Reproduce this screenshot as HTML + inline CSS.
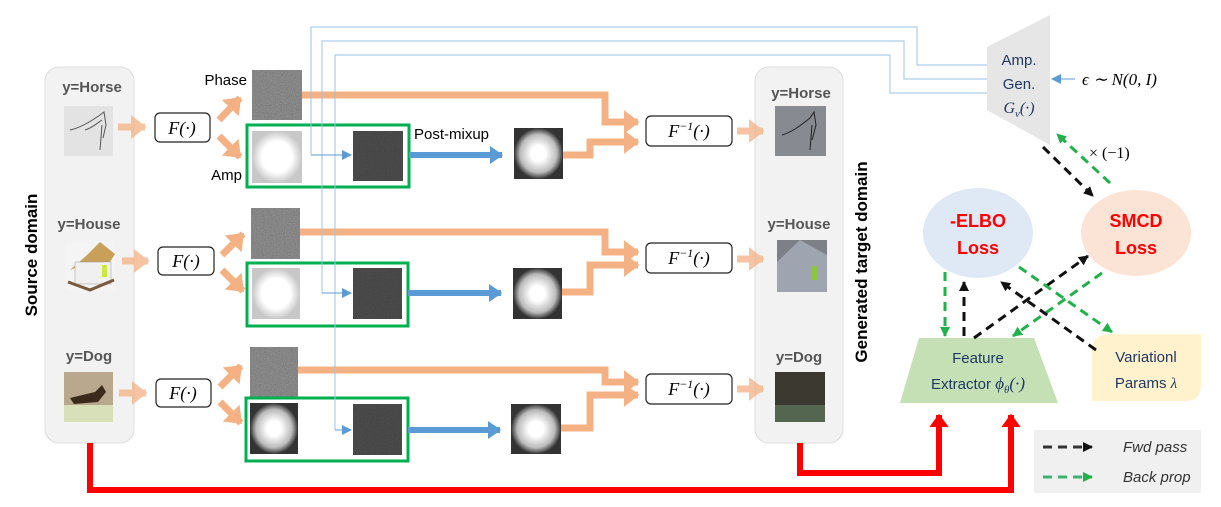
<!DOCTYPE html>
<html><head><meta charset="utf-8"><style>
html,body{margin:0;padding:0;background:#fff;}
svg{display:block;font-family:"Liberation Sans",sans-serif;}
.m{font-family:"Liberation Serif",serif;font-style:italic;}
</style></head><body>
<svg width="1221" height="507" viewBox="0 0 1221 507" xmlns="http://www.w3.org/2000/svg">
<defs>
<filter id="nz" x="0" y="0" width="100%" height="100%"><feTurbulence type="fractalNoise" baseFrequency="0.9" numOctaves="2" seed="3"/><feColorMatrix values="0.33 0.33 0.33 0 0  0.33 0.33 0.33 0 0  0.33 0.33 0.33 0 0  0 0 0 0 1"/></filter>
<radialGradient id="amp"><stop offset="0.6" stop-color="#fff"/><stop offset="1" stop-color="#c8c8c8"/></radialGradient>
<radialGradient id="post"><stop offset="0.3" stop-color="#fff"/><stop offset="0.75" stop-color="#bbb"/><stop offset="1" stop-color="#333"/></radialGradient>
<marker id="ao" markerWidth="4" markerHeight="4" refX="2" refY="2" orient="auto" markerUnits="strokeWidth"><path d="M0,0.3L2.2,2L0,3.7z" fill="#f4b183"/></marker>
<marker id="ab" markerWidth="4" markerHeight="4" refX="2" refY="2" orient="auto" markerUnits="strokeWidth"><path d="M0,0.5L2.2,2L0,3.5z" fill="#5b9bd5"/></marker>
<marker id="abs" markerWidth="10" markerHeight="10" refX="9" refY="5" orient="auto" markerUnits="userSpaceOnUse"><path d="M0,0L10,5L0,10z" fill="#5b9bd5"/></marker>
<marker id="ak" markerWidth="10" markerHeight="10" refX="9" refY="5" orient="auto" markerUnits="userSpaceOnUse"><path d="M0,0L10,5L0,10z" fill="#111"/></marker>
<marker id="ag" markerWidth="10" markerHeight="10" refX="9" refY="5" orient="auto" markerUnits="userSpaceOnUse"><path d="M0,0L10,5L0,10z" fill="#22b04b"/></marker>
<marker id="ar" markerWidth="4" markerHeight="4" refX="2" refY="2" orient="auto" markerUnits="strokeWidth"><path d="M0,0.4L2.2,2L0,3.6z" fill="#f00"/></marker>
</defs>

<rect x="45" y="67" width="89" height="376" rx="14" fill="#f2f2f2" stroke="#dcdcdc"/>
<rect x="755" y="67" width="88" height="376" rx="14" fill="#f2f2f2" stroke="#dcdcdc"/>
<text transform="translate(37,255) rotate(-90)" text-anchor="middle" font-weight="bold" font-size="17">Source  domain</text>
<text transform="translate(867,262) rotate(-90)" text-anchor="middle" font-weight="bold" font-size="17">Generated  target  domain</text>

<g font-weight="bold" font-size="15" fill="#555" text-anchor="middle">
<text x="92" y="92">y=Horse</text><text x="89" y="229">y=House</text><text x="89" y="361">y=Dog</text>
<text x="801" y="98">y=Horse</text><text x="799" y="229">y=House</text><text x="799" y="362">y=Dog</text>
</g>

<rect x="64" y="106" width="49" height="50" fill="#e3e3e3"/>
<path d="M70,130 C80,128 90,122 100,115 L104,112 L106,125 L103,138 M85,130 C92,128 96,124 102,120 M102,125 L100,150" stroke="#555" fill="none" stroke-width="1"/>
<rect x="66" y="241" width="49" height="50" fill="#f4f4f4"/>
<path d="M70,270 L86,256 L100,242 L115,254 L110,262 L90,262z" fill="#c9a05a"/>
<rect x="75" y="262" width="36" height="22" fill="#f0f0f0" stroke="#999" stroke-width="0.5"/>
<rect x="102" y="265" width="5" height="12" fill="#cde83a"/>
<path d="M68,282 L90,290 L114,280" stroke="#7a5a3a" stroke-width="3" fill="none"/>
<rect x="64" y="372" width="49" height="50" fill="#b9a78e"/>
<rect x="64" y="405" width="49" height="17" fill="#d7e0b8"/>
<path d="M70,398 L95,392 L102,385 L106,392 L98,402 L74,404z" fill="#3a2a1a"/>

<g fill="#fff" stroke="#222" stroke-width="1.2">
<rect x="155" y="113" width="55" height="29" rx="5"/>
<rect x="158" y="247" width="56" height="28" rx="5"/>
<rect x="156" y="379" width="55" height="28" rx="5"/>
<rect x="646" y="116" width="86" height="30" rx="5"/>
<rect x="646" y="243" width="86" height="30" rx="5"/>
<rect x="646" y="374" width="86" height="30" rx="5"/>
</g>
<g class="m" font-size="18" text-anchor="middle">
<text x="182" y="134">F(·)</text><text x="186" y="267">F(·)</text><text x="183" y="399">F(·)</text>
<text x="689" y="137">F<tspan dy="-7" font-size="12">−1</tspan><tspan dy="7">(·)</tspan></text>
<text x="689" y="264">F<tspan dy="-7" font-size="12">−1</tspan><tspan dy="7">(·)</tspan></text>
<text x="689" y="395">F<tspan dy="-7" font-size="12">−1</tspan><tspan dy="7">(·)</tspan></text>
</g>

<g stroke="#f4b183" stroke-width="7" fill="none" marker-end="url(#ao)">
<line x1="118" y1="127" x2="145" y2="127" opacity="0.75"/>
<line x1="122" y1="261" x2="148" y2="261" opacity="0.75"/>
<line x1="119" y1="393" x2="146" y2="393" opacity="0.75"/>
<line x1="219" y1="120" x2="240" y2="98"/>
<line x1="219" y1="136" x2="240" y2="157"/>
<line x1="222" y1="255" x2="243" y2="234"/>
<line x1="222" y1="270" x2="243" y2="291"/>
<line x1="220" y1="387" x2="241" y2="366"/>
<line x1="220" y1="402" x2="241" y2="423"/>
<polyline points="302,95 605,95 605,122 638,122"/>
<polyline points="563,155 590,155 590,142 638,142"/>
<polyline points="300,232 605,232 605,252 638,252"/>
<polyline points="562,292 590,292 590,265 638,265"/>
<polyline points="298,370 605,370 605,382 638,382"/>
<polyline points="561,428 590,428 590,395 638,395"/>
<line x1="737" y1="131" x2="763" y2="131" opacity="0.75"/>
<line x1="737" y1="259" x2="763" y2="259" opacity="0.75"/>
<line x1="737" y1="389" x2="763" y2="389" opacity="0.75"/>
</g>

<rect x="775" y="106" width="51" height="50" fill="#878a90"/>
<path d="M782,135 C792,132 800,126 810,118 L814,112 L816,125 L812,140 M812,125 L810,150" stroke="#222" fill="none" stroke-width="1"/>
<rect x="777" y="240" width="50" height="52" fill="#7e8088"/>
<path d="M777,262 L800,240 L827,255 L827,292 L777,292z" fill="#9fa5b0"/>
<rect x="812" y="266" width="5" height="14" fill="#8cc63f"/>
<rect x="775" y="372" width="50" height="50" fill="#3c3a30"/>
<rect x="775" y="405" width="50" height="17" fill="#556650"/>

<!-- phase images -->
<rect x="252" y="70" width="50" height="50" fill="#5a5a5a"/>
<rect x="252" y="70" width="50" height="50" filter="url(#nz)" opacity="0.45"/>
<rect x="251" y="208" width="49" height="51" fill="#5a5a5a"/>
<rect x="251" y="208" width="49" height="51" filter="url(#nz)" opacity="0.45"/>
<rect x="250" y="347" width="48" height="50" fill="#5a5a5a"/>
<rect x="250" y="347" width="48" height="50" filter="url(#nz)" opacity="0.45"/>
<text x="247" y="85" font-size="15" text-anchor="end">Phase</text>
<text x="242" y="180" font-size="15" text-anchor="end">Amp</text>

<g fill="none" stroke="#00b050" stroke-width="3">
<rect x="247" y="125" width="162" height="62"/>
<rect x="247" y="263" width="161" height="63"/>
<rect x="246" y="398" width="162" height="63"/>
</g>
<rect x="252" y="131" width="50" height="52" fill="url(#amp)"/>
<rect x="252" y="268" width="48" height="51" fill="url(#amp)"/>
<rect x="250" y="403" width="48" height="51" fill="url(#post)"/>
<rect x="353" y="131" width="50" height="50" fill="#2c2c2c"/>
<rect x="353" y="131" width="50" height="50" filter="url(#nz)" opacity="0.2"/>
<rect x="353" y="268" width="49" height="51" fill="#2c2c2c"/>
<rect x="353" y="268" width="49" height="51" filter="url(#nz)" opacity="0.2"/>
<rect x="353" y="404" width="49" height="51" fill="#2c2c2c"/>
<rect x="353" y="404" width="49" height="51" filter="url(#nz)" opacity="0.2"/>

<g stroke="#5b9bd5" stroke-width="6" marker-end="url(#ab)">
<line x1="409" y1="155" x2="502" y2="155"/>
<line x1="408" y1="293" x2="501" y2="293"/>
<line x1="408" y1="430" x2="500" y2="430"/>
</g>
<text x="414" y="139" font-size="15">Post-mixup</text>
<rect x="514" y="128" width="49" height="51" fill="url(#post)"/>
<rect x="513" y="268" width="49" height="51" fill="url(#post)"/>
<rect x="511" y="404" width="50" height="50" fill="url(#post)"/>

<g stroke="#9dc3e6" stroke-width="1" fill="none">
<polyline points="311,155 311,27 917,27 917,65 987,65"/>
<polyline points="322,293 322,41 904,41 904,79 987,79"/>
<polyline points="335,430 335,55 890,55 890,93 987,93"/>
</g>
<g stroke="#5b9bd5" stroke-width="1" fill="none" marker-end="url(#abs)">
<line x1="311" y1="155" x2="351" y2="155"/>
<line x1="322" y1="293" x2="351" y2="293"/>
<line x1="335" y1="430" x2="351" y2="430"/>
<line x1="1075" y1="79" x2="1052" y2="79"/>
</g>

<polygon points="987,47 1050,15 1050,145 987,110" fill="#e6e6e6"/>
<g fill="#1f3864" font-size="15" text-anchor="middle">
<text x="1019" y="65">Amp.</text><text x="1019" y="89">Gen.</text>
<text x="1019" y="113" class="m" font-size="16">G<tspan font-size="11" dy="4">ν</tspan><tspan dy="-4">(·)</tspan></text>
</g>
<text x="1082" y="85" class="m" font-size="17">ϵ ∼ N(0, I)</text>
<text x="1089" y="158" font-family="Liberation Serif,serif" font-size="16">× (−1)</text>

<ellipse cx="978" cy="233" rx="55" ry="45" fill="#dee9f5"/>
<ellipse cx="1136" cy="233" rx="55" ry="43" fill="#fbe3d6"/>
<g fill="#f00" font-weight="bold" font-size="18" text-anchor="middle">
<text x="978" y="227">-ELBO</text><text x="978" y="254">Loss</text>
<text x="1136" y="227">SMCD</text><text x="1136" y="254">Loss</text>
</g>
<polygon points="919,338 1034,338 1058,403 900,403" fill="#c5e0b4"/>
<g fill="#1f3864" font-size="15" text-anchor="middle">
<text x="978" y="363">Feature</text>
<text x="978" y="389">Extractor <tspan class="m" font-size="17">ϕ<tspan font-size="11" dy="4">θ</tspan><tspan dy="-4">(·)</tspan></tspan></text>
</g>
<path d="M1110,334 L1201,334 L1201,385 Q1201,401 1185,401 L1092,401 L1092,352 Q1092,334 1110,334z" fill="#fff2cc"/>
<g fill="#1f3864" font-size="15" text-anchor="middle">
<text x="1146" y="362">Variationl</text><text x="1146" y="388">Params <tspan class="m">λ</tspan></text>
</g>

<g stroke-width="3" stroke-dasharray="9,6" fill="none">
<line x1="1043" y1="147" x2="1093" y2="196" stroke="#111" marker-end="url(#ak)"/>
<line x1="1110" y1="183" x2="1057" y2="134" stroke="#22b04b" marker-end="url(#ag)"/>
<line x1="945" y1="272" x2="945" y2="336" stroke="#22b04b" marker-end="url(#ag)"/>
<line x1="964" y1="336" x2="964" y2="282" stroke="#111" marker-end="url(#ak)"/>
<line x1="974" y1="338" x2="1088" y2="256" stroke="#111" marker-end="url(#ak)"/>
<line x1="1102" y1="273" x2="1013" y2="336" stroke="#22b04b" marker-end="url(#ag)"/>
<line x1="1019" y1="267" x2="1112" y2="332" stroke="#22b04b" marker-end="url(#ag)"/>
<line x1="1096" y1="350" x2="1001" y2="282" stroke="#111" marker-end="url(#ak)"/>
</g>

<g stroke="#f00" stroke-width="6" fill="none" marker-end="url(#ar)">
<polyline points="800,443 800,473 939,473 939,415"/>
<polyline points="90,443 90,490 1011,490 1011,415"/>
</g>

<rect x="1034" y="430" width="167" height="63" fill="#f0f0f0"/>
<line x1="1043" y1="447" x2="1092" y2="447" stroke="#333" stroke-width="3" stroke-dasharray="9,6" marker-end="url(#ak)"/>
<line x1="1043" y1="477" x2="1092" y2="477" stroke="#3cb371" stroke-width="3" stroke-dasharray="9,6" marker-end="url(#ag)"/>
<g font-style="italic" font-size="15" fill="#333">
<text x="1123" y="452">Fwd pass</text><text x="1123" y="482">Back prop</text>
</g>
</svg>
</body></html>
